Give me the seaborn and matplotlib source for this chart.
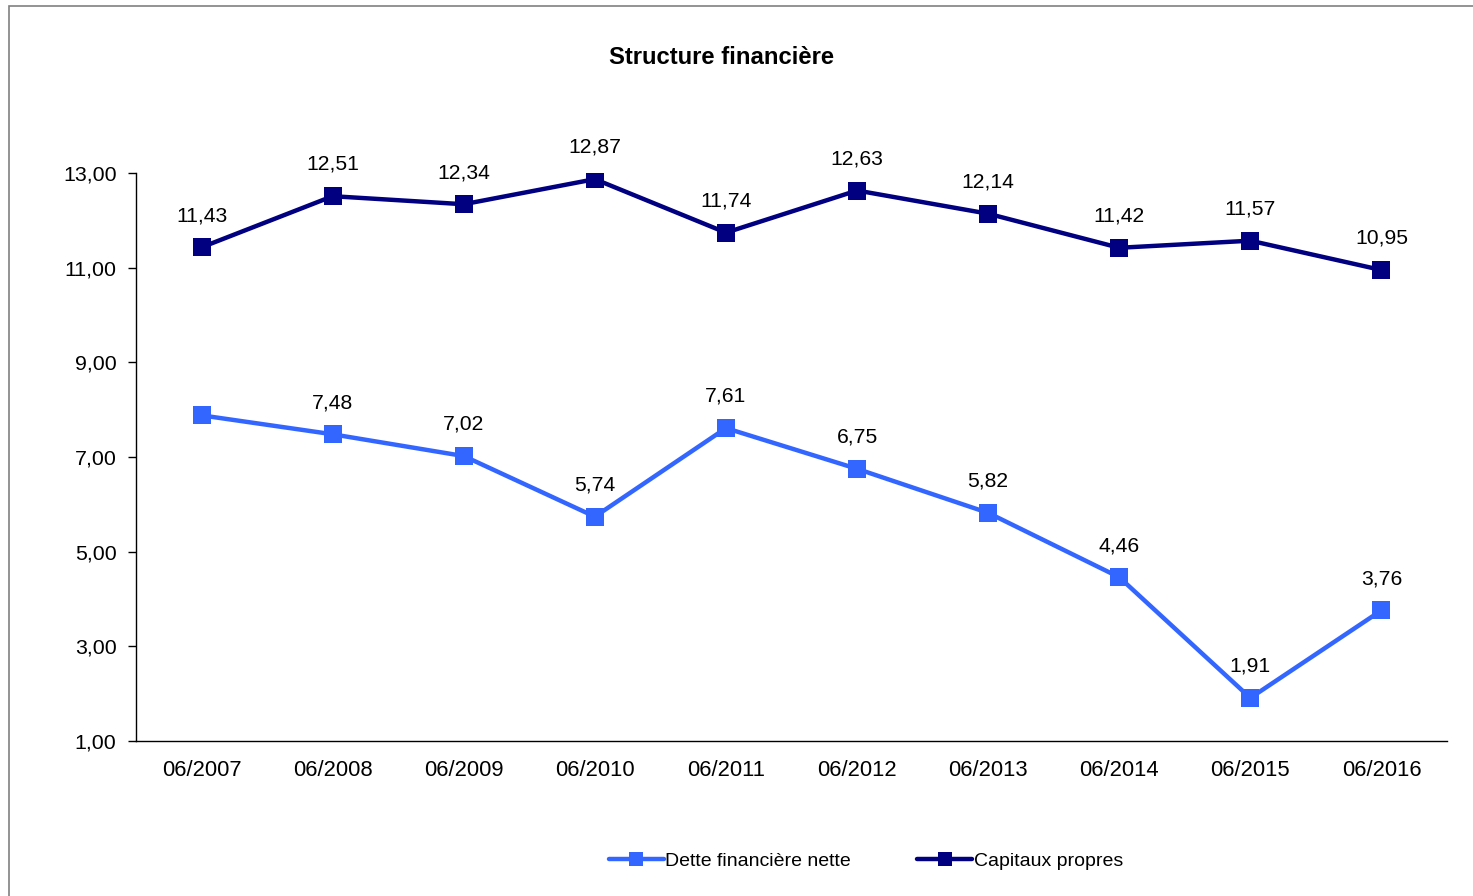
import matplotlib
matplotlib.use("Agg")
import matplotlib.pyplot as plt
import seaborn as sns
import pandas as pd
from matplotlib.patches import Rectangle
from matplotlib.lines import Line2D

categories = ["06/2007", "06/2008", "06/2009", "06/2010", "06/2011",
              "06/2012", "06/2013", "06/2014", "06/2015", "06/2016"]
dette = [7.88, 7.48, 7.02, 5.74, 7.61, 6.75, 5.82, 4.46, 1.91, 3.76]
dette_labels = [None, "7,48", "7,02", "5,74", "7,61", "6,75", "5,82", "4,46", "1,91", "3,76"]
capitaux = [11.43, 12.51, 12.34, 12.87, 11.74, 12.63, 12.14, 11.42, 11.57, 10.95]
capitaux_labels = ["11,43", "12,51", "12,34", "12,87", "11,74", "12,63", "12,14", "11,42", "11,57", "10,95"]
yticks = [1, 3, 5, 7, 9, 11, 13]
ytick_labels = ["1,00", "3,00", "5,00", "7,00", "9,00", "11,00", "13,00"]

sns.set_style("white")
plt.rcParams['font.family'] = ['Liberation Sans', 'DejaVu Sans']
plt.rcParams['text.color'] = 'black'
plt.rcParams['xtick.color'] = 'black'
plt.rcParams['ytick.color'] = 'black'

W, H = 1473, 896
fig = plt.figure(figsize=(W / 100, H / 100), dpi=100)
ax = fig.add_axes([136 / W, 1 - 741 / H, (1447 - 136) / W, (741 - 173) / H])

x = list(range(len(categories)))
df = pd.DataFrame({
    "x": x * 2,
    "value": dette + capitaux,
    "serie": ["Dette financière nette"] * len(x) + ["Capitaux propres"] * len(x),
})
palette = {"Dette financière nette": "#3366FF", "Capitaux propres": "#000080"}
sns.lineplot(data=df, x="x", y="value", hue="serie", palette=palette,
             marker="s", markersize=13, markeredgewidth=0, linewidth=3.2,
             ax=ax, legend=False)

fs = 15.2
for xi, v, lab in zip(x, dette, dette_labels):
    if lab:
        ax.annotate(lab, (xi, v), xytext=(0, 16), textcoords="offset points",
                    ha="center", va="bottom", fontsize=fs, color="black")
for xi, v, lab in zip(x, capitaux, capitaux_labels):
    ax.annotate(lab, (xi, v), xytext=(0, 16), textcoords="offset points",
                ha="center", va="bottom", fontsize=fs, color="black")

ax.set_xlim(-0.5, len(categories) - 0.5)
ax.set_ylim(1, 13)
ax.set_yticks(yticks)
ax.set_yticklabels(ytick_labels, fontsize=15.4)
ax.set_xticks(x)
ax.set_xticklabels(categories, fontsize=15.8)
ax.set_xticks([i - 0.5 for i in range(len(categories) + 1)], minor=True)
ax.tick_params(axis="x", which="major", length=0, pad=14)
ax.tick_params(axis="x", which="minor", length=5, width=1, color="#808080", direction="out")
ax.tick_params(axis="y", length=6, width=1, color="black", direction="out", left=True, pad=8)
ax.set_xlabel("")
ax.set_ylabel("")
for s in ["top", "right"]:
    ax.spines[s].set_visible(False)
ax.spines["left"].set_color("black")
ax.spines["bottom"].set_color("black")
ax.spines["left"].set_linewidth(1)
ax.spines["bottom"].set_linewidth(1)

fig.text(722 / W, 1 - 58 / H, "Structure financière", ha="center", va="center",
         fontsize=17.2, fontweight="bold")

handles = [Line2D([0], [0], color="#3366FF", lw=3.2, marker="s", markersize=10, markeredgewidth=0),
           Line2D([0], [0], color="#000080", lw=3.2, marker="s", markersize=10, markeredgewidth=0)]
fig.legend(handles, ["Dette financière nette", "Capitaux propres"], loc="center",
           bbox_to_anchor=(866 / W, 1 - 861 / H), ncol=2, frameon=False,
           fontsize=14.0, handlelength=2.8, handletextpad=0.1, columnspacing=3.4)

fig.patches.append(Rectangle((9 / W, -0.01), 1.02, 1 - 6 / H + 0.01, transform=fig.transFigure,
                             fill=False, edgecolor="#808080", linewidth=1.2))

fig.savefig("out.png", dpi=100)
